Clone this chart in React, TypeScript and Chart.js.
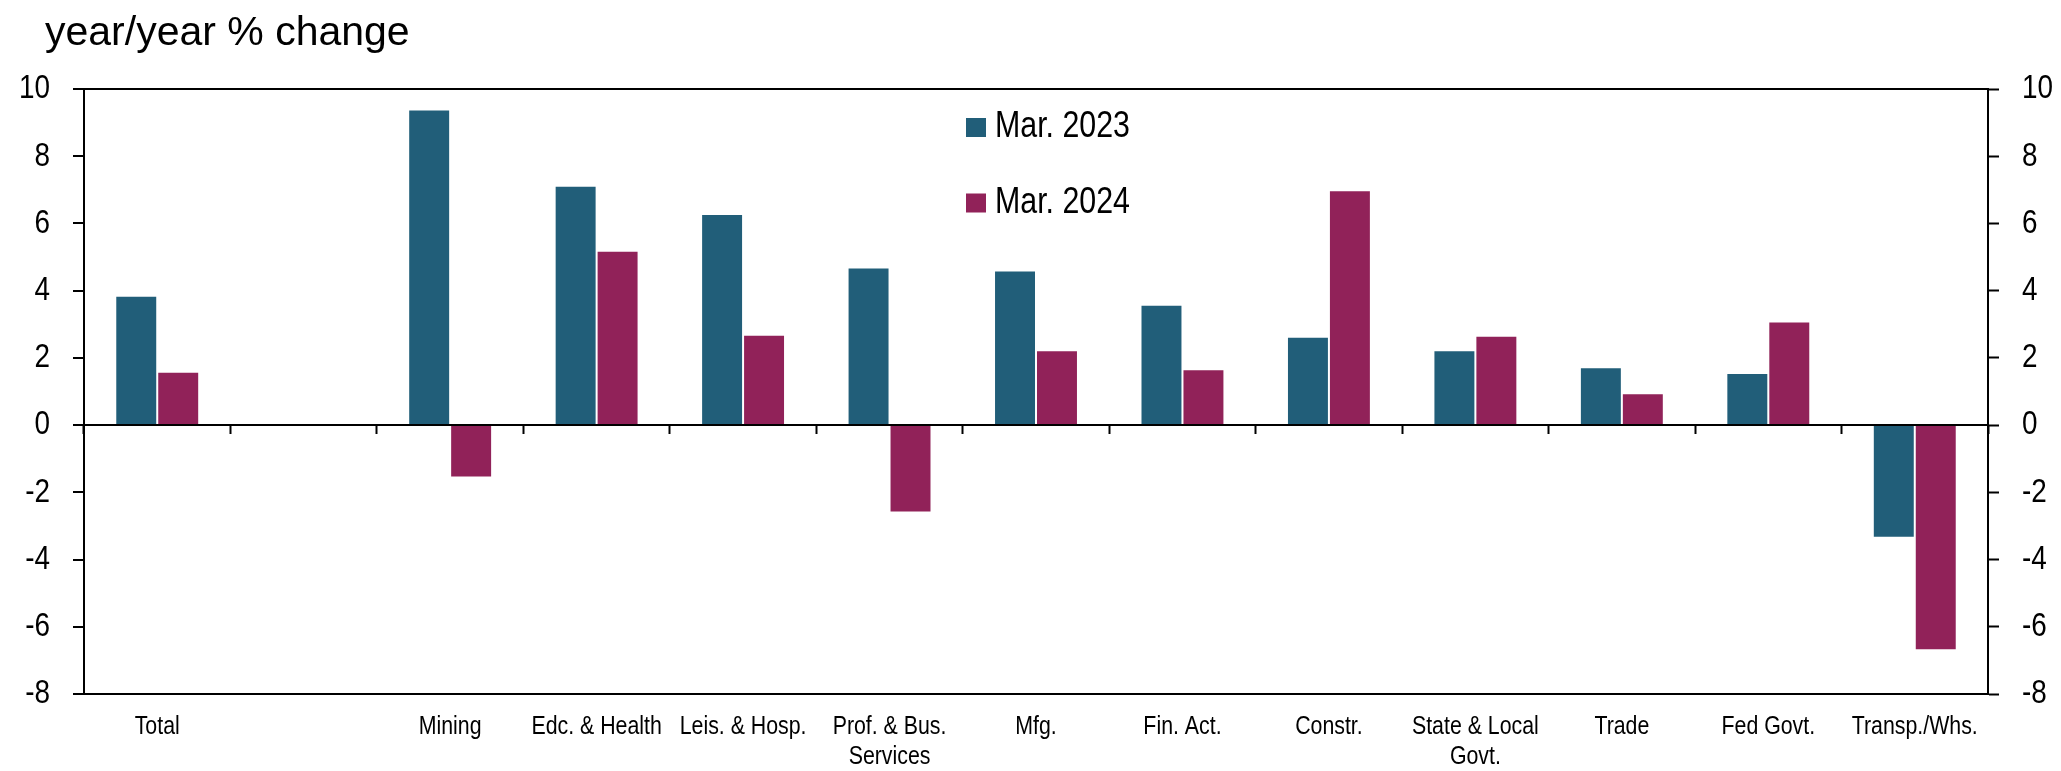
import React, { useEffect, useRef } from "react";
import { Chart, registerables } from "chart.js";

Chart.register(...registerables);

const categories: (string | string[])[] = [
  "Total",
  "",
  "Mining",
  "Edc. & Health",
  "Leis. & Hosp.",
  ["Prof. & Bus.", "Services"],
  "Mfg.",
  "Fin. Act.",
  "Constr.",
  ["State & Local", "Govt."],
  "Trade",
  "Fed Govt.",
  "Transp./Whs.",
];

const mar2023: (number | null)[] = [3.85, null, 9.39, 7.12, 6.28, 4.69, 4.6, 3.58, 2.63, 2.23, 1.72, 1.55, -3.35];
const mar2024: (number | null)[] = [1.59, null, -1.56, 5.19, 2.69, -2.6, 2.23, 1.66, 6.99, 2.66, 0.95, 3.08, -6.7];

const seriesLabels = ["Mar. 2023", "Mar. 2024"];
const seriesColors = ["#215E79", "#912259"];
const titleText = "year/year % change";

const yMin = -8;
const yMax = 10;
const yStep = 2;

// "Narrow" marker: Liberation Sans Narrow is not installed, so text whose font
// names it is drawn in Liberation Sans, horizontally condensed like Arial Narrow.
const NARROW = '"Liberation Sans Narrow", "Liberation Sans", Arial, sans-serif';
const REGULAR = '"Liberation Sans", Arial, sans-serif';
const NARROW_FACTOR = 0.82;

const W = 2061;
const H = 771;

export default function App() {
  const ref = useRef<HTMLCanvasElement | null>(null);

  useEffect(() => {
    document.body.style.margin = "0";
    const canvas = ref.current;
    if (!canvas) return;
    const ctx2d = canvas.getContext("2d") as any;
    const origFill = ctx2d.fillText.bind(ctx2d);
    ctx2d.fillText = function (text: string, x: number, y: number, maxWidth?: number) {
      if (String(this.font).indexOf("Narrow") >= 0) {
        this.save();
        this.translate(x, y);
        this.scale(NARROW_FACTOR, 1);
        if (maxWidth !== undefined) origFill(text, 0, 0, maxWidth / NARROW_FACTOR);
        else origFill(text, 0, 0);
        this.restore();
      } else if (maxWidth !== undefined) {
        origFill(text, x, y, maxWidth);
      } else {
        origFill(text, x, y);
      }
    };

    const titlePlugin = {
      id: "titleText",
      afterDraw(chart: any) {
        const ctx = chart.ctx;
        ctx.save();
        ctx.fillStyle = "#000";
        ctx.font = `41px ${REGULAR}`;
        ctx.textAlign = "left";
        ctx.textBaseline = "alphabetic";
        ctx.fillText(titleText, 45, 45);
        ctx.restore();
      },
    };

    const legendPlugin = {
      id: "innerLegend",
      afterDraw(chart: any) {
        const ctx = chart.ctx;
        ctx.save();
        chart.data.datasets.forEach((ds: any, i: number) => {
          const top = 118 + i * 75.5;
          ctx.fillStyle = ds.backgroundColor;
          ctx.fillRect(966, top, 20, 19);
          ctx.fillStyle = "#000";
          ctx.font = `37px ${NARROW}`;
          ctx.textAlign = "left";
          ctx.textBaseline = "middle";
          ctx.fillText(ds.label, 995, top + 9);
        });
        ctx.restore();
      },
    };

    const yRange = { min: yMin, max: yMax };

    const chart = new Chart(canvas, {
      type: "bar",
      data: {
        labels: categories as any,
        datasets: [
          {
            label: seriesLabels[0],
            data: mar2023,
            backgroundColor: seriesColors[0],
            borderColor: "rgba(255,255,255,0.35)",
            borderWidth: 1,
            categoryPercentage: 0.573,
            barPercentage: 1,
            xAxisID: "x",
            yAxisID: "y",
          },
          {
            label: seriesLabels[1],
            data: mar2024,
            backgroundColor: seriesColors[1],
            borderColor: "rgba(255,255,255,0.35)",
            borderWidth: 1,
            categoryPercentage: 0.573,
            barPercentage: 1,
            xAxisID: "x",
            yAxisID: "y",
          },
        ],
      },
      options: {
        animation: false,
        responsive: false,
        devicePixelRatio: 1,
        layout: { padding: { top: 89, left: 0, right: 0, bottom: 0 } },
        plugins: {
          legend: { display: false },
          title: { display: false },
          tooltip: { enabled: false },
        },
        scales: {
          x: {
            type: "category",
            position: "bottom",
            offset: true,
            grid: { display: true, drawOnChartArea: false, drawTicks: false, offset: true },
            border: { display: true, color: "#000", width: 2 },
            ticks: {
              color: "#000",
              font: { family: NARROW, size: 26, lineHeight: 1.15 },
              padding: 18,
              maxRotation: 0,
              minRotation: 0,
              autoSkip: false,
            },
            afterFit(scale: any) {
              scale.height = 77;
            },
          },
          x2: {
            type: "category",
            position: { y: 0 } as any,
            offset: true,
            grid: {
              display: true,
              drawOnChartArea: false,
              drawTicks: true,
              tickLength: 8,
              tickWidth: 2,
              tickColor: "#000",
              offset: true,
            },
            border: { display: true, color: "#000", width: 2 },
            ticks: { display: false },
          },
          y: {
            type: "linear",
            position: "left",
            ...yRange,
            grid: {
              display: true,
              drawOnChartArea: true,
              drawTicks: true,
              tickLength: 11,
              tickWidth: 2,
              tickColor: "#000",
              lineWidth: 2,
              color: (c: any) => (c.tick && c.tick.value === yMax ? "#000" : "rgba(0,0,0,0)"),
            },
            border: { display: true, color: "#000", width: 2 },
            ticks: {
              stepSize: yStep,
              color: "#000",
              font: { family: NARROW, size: 34 },
              padding: 23,
            },
            afterFit(scale: any) {
              scale.width = 84;
            },
          },
          y2: {
            type: "linear",
            position: "right",
            ...yRange,
            grid: {
              display: true,
              drawOnChartArea: false,
              drawTicks: true,
              tickLength: 11,
              tickWidth: 2,
              tickColor: "#000",
            },
            border: { display: true, color: "#000", width: 2 },
            ticks: {
              stepSize: yStep,
              color: "#000",
              font: { family: NARROW, size: 34 },
              padding: 23,
            },
            afterFit(scale: any) {
              scale.width = 73;
            },
          },
        },
      } as any,
      plugins: [titlePlugin, legendPlugin],
    });

    return () => chart.destroy();
  }, []);

  return (
    <div style={{ width: W, height: H }}>
      <canvas ref={ref} width={W} height={H} style={{ display: "block", width: W, height: H }} />
    </div>
  );
}
